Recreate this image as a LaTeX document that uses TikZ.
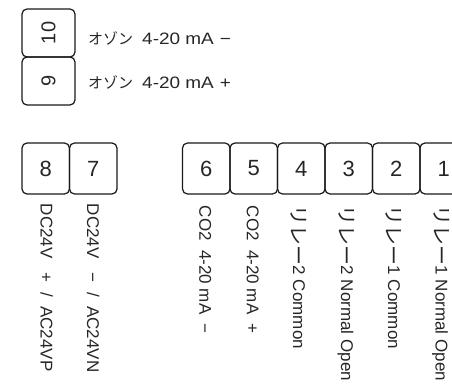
\documentclass[tikz,border=0pt]{standalone}
\usepackage{fontspec}
\setmainfont{Liberation Sans}
\newfontfamily\jp{Noto Sans CJK JP}
\newfontfamily\wide{Liberation Sans}[FakeStretch=1.15]
\newcommand{\relay}{\raisebox{-1.5pt}{\jp\fontsize{20}{20}\selectfont リレー}}
\newcommand{\ozon}{{\jp\fontsize{15}{15}\selectfont オゾン}}
\tikzset{
  x=1pt, y=-1pt,
  tbox/.style={draw=black!90, line width=1.2pt, rounded corners=5pt, inner sep=0pt, text=black!85},
  topbox/.style={tbox, minimum width=53pt, minimum height=48pt, font=\fontsize{20}{20}\selectfont},
  botbox/.style={tbox, minimum width=47.5pt, minimum height=51pt, font=\fontsize{22}{22}\selectfont},
  toplabel/.style={anchor=west, inner sep=0pt, text=black!85, font=\wide\fontsize{16.5}{16.5}\selectfont},
  vlabel/.style={rotate=-90, anchor=west, inner sep=0pt, text=black!85, font=\fontsize{17}{17}\selectfont},
}
\begin{document}
\begin{tikzpicture}
\useasboundingbox (0,0) rectangle (452,387);
\clip (0,0) rectangle (452,387);
% top pair
\node[topbox] (b10) at (48.5,33) {\rotatebox{90}{10}};
\node[topbox] (b9) at (48.5,81) {\rotatebox{90}{9}};
\node[toplabel] (l10) at (88,38) {\ozon\hspace{9pt}4-20 mA\hspace{6pt}−};
\node[toplabel] (l9) at (88,82) {\ozon\hspace{9pt}4-20 mA\hspace{6pt}+};
% bottom row
\node[botbox] (b8) at (45.75,168.5) {8};
\node[botbox] (b7) at (93.25,168.5) {7};
\node[botbox] (b6) at (206.25,168.5) {6};
\node[botbox] (b5) at (253.75,168.5) {5};
\node[botbox] (b4) at (301.25,168.5) {4};
\node[botbox] (b3) at (348.75,168.5) {3};
\node[botbox] (b2) at (396.25,168.5) {2};
\node[botbox] (b1) at (443.75,168.5) {1};
% vertical labels
\node[vlabel] (t8) at ([xshift=1pt,yshift=-9pt]b8.south) {DC24V\ \ \ +\ \ /\ \ AC24VP};
\node[vlabel] (t7) at ([xshift=0pt,yshift=-9pt]b7.south) {DC24V\ \ \ −\ \ /\ \ AC24VN};
\node[vlabel] (t6) at ([xshift=-1pt,yshift=-11pt]b6.south) {CO2\ \ 4-20 mA\ \ −};
\node[vlabel] (t5) at ([xshift=-1pt,yshift=-11pt]b5.south) {CO2\ \ 4-20 mA\ \ +};
\node[vlabel] (t4) at ([xshift=-2.5pt,yshift=-11pt]b4.south) {\relay 2 Common};
\node[vlabel] (t3) at ([xshift=-2.5pt,yshift=-11pt]b3.south) {\relay 2 Normal Open};
\node[vlabel] (t2) at ([xshift=-2.5pt,yshift=-11pt]b2.south) {\relay 1 Common};
\node[vlabel] (t1) at ([xshift=-3pt,yshift=-11pt]b1.south) {\relay 1 Normal Open};
\end{tikzpicture}
\end{document}
